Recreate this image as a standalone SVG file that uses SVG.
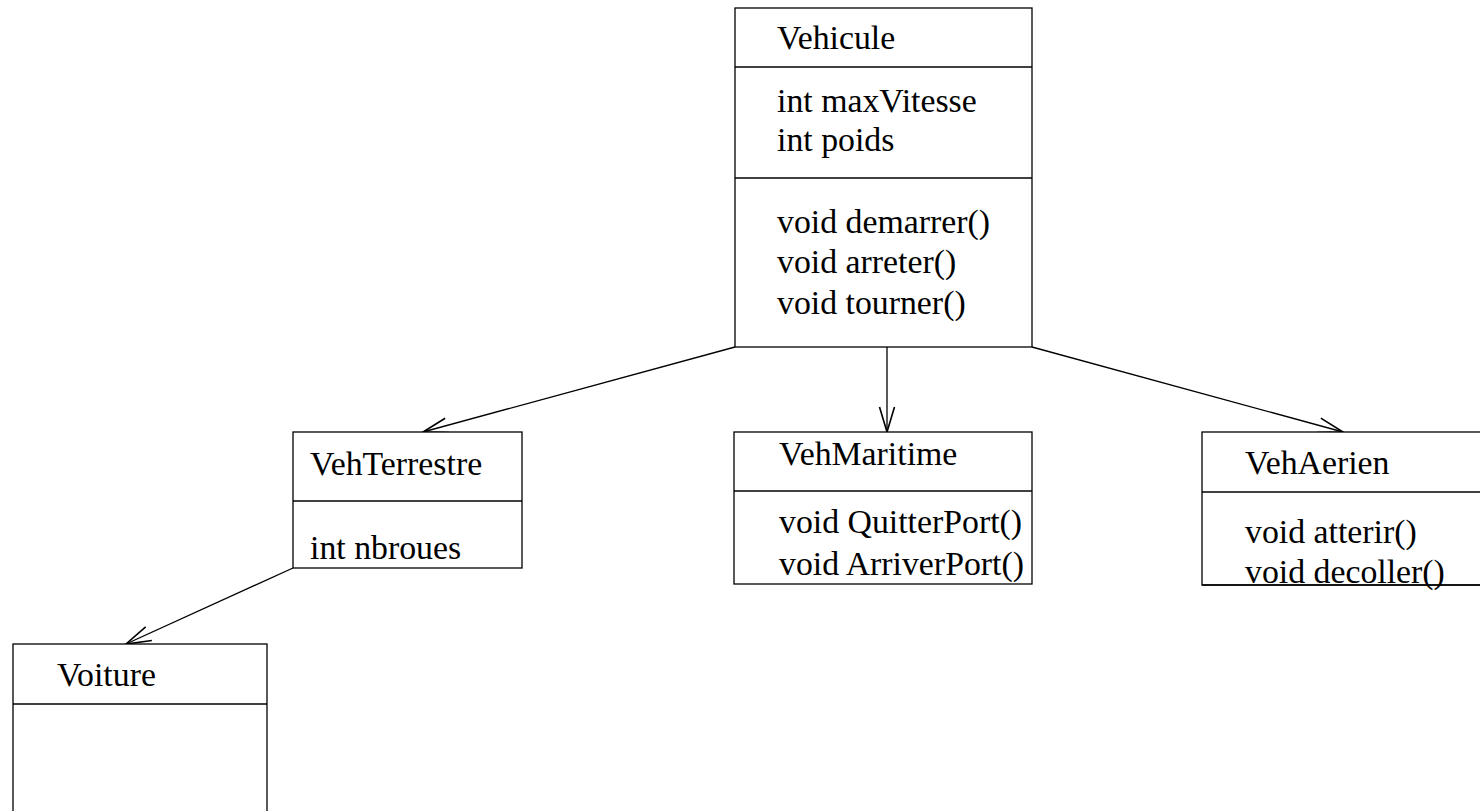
<svg xmlns="http://www.w3.org/2000/svg" width="1480" height="811" viewBox="0 0 1480 811">
  <style>
    .box { fill: #ffffff; stroke: #000000; stroke-width: 1.3; }
    .sep { stroke: #000000; stroke-width: 1.3; }
    .lbl { font-family: 'Liberation Serif', 'Times New Roman', serif; font-size: 33.8px; fill: #000000; }
    .edge { stroke: #000000; stroke-width: 1.3; fill: none; marker-end: url(#open); }
  </style>
  <defs>
    <!-- open arrowhead for generalisation links -->
    <marker id="open" markerUnits="userSpaceOnUse" markerWidth="30" markerHeight="20" viewBox="-22 -8 24 16" refX="0" refY="0" orient="auto" overflow="visible">
      <path d="M -20 -6 L 0 0 L -20 6" fill="none" stroke="#000000" stroke-width="1.3"/>
    </marker>
  </defs>

  <rect width="1480" height="811" fill="#ffffff"/>

  <!-- inheritance links -->
  <g id="connectors">
    <line class="edge" x1="735" y1="347" x2="423" y2="432"/>
    <line class="edge" x1="887" y1="347" x2="887" y2="432"/>
    <line class="edge" x1="1032" y1="347" x2="1343" y2="432"/>
    <line class="edge" x1="293" y1="568" x2="126" y2="644"/>
  </g>

  <g id="Vehicule">
    <rect class="box" x="735" y="8" width="297" height="339"/>
    <line class="sep" x1="735" y1="67" x2="1032" y2="67"/>
    <line class="sep" x1="735" y1="178" x2="1032" y2="178"/>
    <text class="lbl" x="777" y="49">Vehicule</text>
    <text class="lbl" x="777" y="112">int maxVitesse</text>
    <text class="lbl" x="777" y="151">int poids</text>
    <text class="lbl" x="777" y="233">void demarrer()</text>
    <text class="lbl" x="777" y="273">void arreter()</text>
    <text class="lbl" x="777" y="314">void tourner()</text>
  </g>

  <g id="VehTerrestre">
    <rect class="box" x="293" y="432" width="229" height="136"/>
    <line class="sep" x1="293" y1="501" x2="522" y2="501"/>
    <text class="lbl" x="310" y="475">VehTerrestre</text>
    <text class="lbl" x="310" y="559">int nbroues</text>
  </g>

  <g id="VehMaritime">
    <rect class="box" x="734" y="432" width="298" height="152"/>
    <line class="sep" x1="734" y1="491" x2="1032" y2="491"/>
    <text class="lbl" x="779" y="465">VehMaritime</text>
    <text class="lbl" x="779" y="533">void QuitterPort()</text>
    <text class="lbl" x="779" y="575">void ArriverPort()</text>
  </g>

  <g id="VehAerien">
    <rect class="box" x="1202" y="432" width="290" height="153"/>
    <line class="sep" x1="1202" y1="492" x2="1492" y2="492"/>
    <text class="lbl" x="1245" y="474">VehAerien</text>
    <text class="lbl" x="1245" y="543">void atterir()</text>
    <text class="lbl" x="1245" y="583">void decoller()</text>
    <line class="sep" x1="1202" y1="585" x2="1492" y2="585"/>
  </g>

  <g id="Voiture">
    <rect class="box" x="13" y="644" width="254" height="190"/>
    <line class="sep" x1="13" y1="704" x2="267" y2="704"/>
    <text class="lbl" x="57" y="686">Voiture</text>
  </g>
</svg>
